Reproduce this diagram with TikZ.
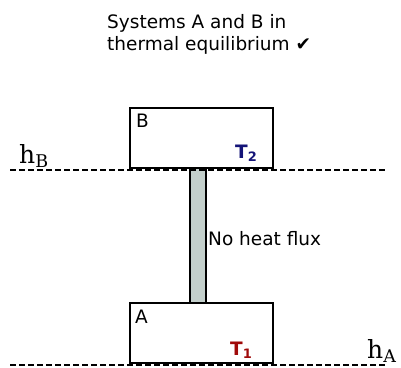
\documentclass[tikz,border=0pt]{standalone}
\usepackage{fontspec}
\setmainfont{DejaVu Sans}
\newfontfamily\serifh{DejaVu Serif}
\begin{document}
\begin{tikzpicture}[x=1pt,y=-1pt,
  sysbox/.style={draw,line width=1.8pt,fill=white},
  level/.style={line width=2pt,dash pattern=on 6pt off 3pt},
  lbl/.style={inner sep=0pt,font=\fontsize{18.5}{22}\selectfont},
  tlbl/.style={inner sep=0pt,font=\bfseries\fontsize{18.5}{22}\selectfont},
  hlbl/.style={inner sep=0pt,font=\serifh\fontsize{25}{26}\selectfont}]
\useasboundingbox (0,0) rectangle (401,367);
\definecolor{rodfill}{HTML}{C3CFCB}
\definecolor{tblue}{HTML}{141478}
\definecolor{tred}{HTML}{A00A0A}
\node[lbl,align=left,anchor=base west] (title) at (107,50) {Systems A and B in\\thermal equilibrium \char"2714};
\coordinate (lBl) at (10,170);
\coordinate (lBr) at (385,170);
\coordinate (lAl) at (10,365);
\coordinate (lAr) at (385,365);
\draw[line width=1.8pt,fill=rodfill] (190,168) rectangle (206,303);
\draw[sysbox] (130,108) rectangle (273,168);
\draw[sysbox] (130,303) rectangle (273,363);
\draw[level] (lBl) -- (lBr);
\draw[level] (lAl) -- (lAr);
\node[lbl,anchor=base west] (B) at (136,127) {B};
\node[lbl,anchor=base west] (A) at (135,323) {A};
\node[tlbl,anchor=base west,text=tblue] (T2) at (235,158) {T\textsubscript{2}};
\node[tlbl,anchor=base west,text=tred] (T1) at (230,355) {T\textsubscript{1}};
\node[lbl,anchor=base west] (flux) at (208,245) {No heat flux};
\node[hlbl,anchor=base west] (hB) at (19,163) {h\textsubscript{B}};
\node[hlbl,anchor=base west] (hA) at (367,358) {h\textsubscript{A}};
\end{tikzpicture}
\end{document}
